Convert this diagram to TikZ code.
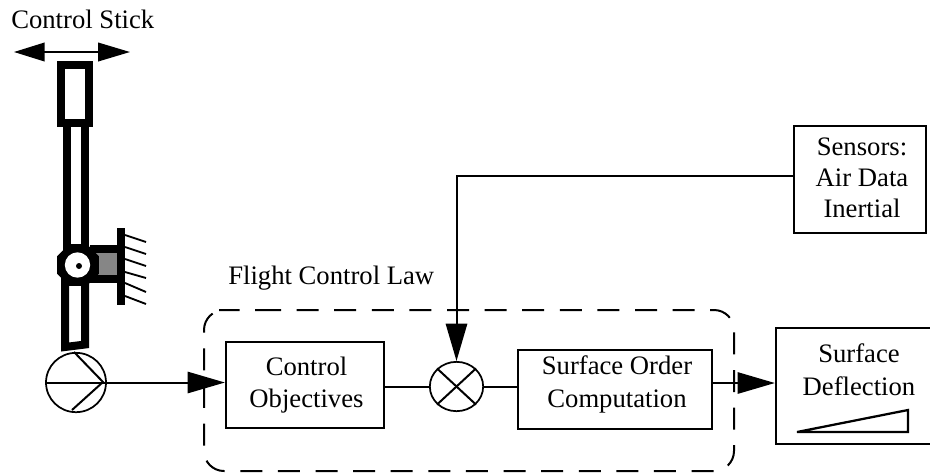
\documentclass[tikz,border=0pt]{standalone}
\usepackage{fontspec}
\setmainfont{Liberation Serif}
\usetikzlibrary{arrows.meta,shapes.geometric}
\begin{document}
\begin{tikzpicture}[x=0.75pt,y=-0.75pt,
  lbl/.style={font=\fontsize{20pt}{24pt}\selectfont,align=center,inner sep=0pt},
  blockbox/.style={draw,line width=1.7pt,inner sep=0pt},
  wire/.style={draw,line width=1.5pt},
  bigtip/.style={-{Triangle[length=28pt,width=16pt]}},
  stickline/.style={draw,line width=6pt},
  joint/.style={ellipse,draw,line width=1.3pt,fill=white,inner sep=0pt}]
\useasboundingbox (0,0) rectangle (930,472);
% dashed boundary
\draw[dash pattern=on 16.5pt off 11.7pt,line width=1.5pt,rounded corners=15pt] (239,310) -- (734,310) -- (734,471) -- (204,471) -- (204,310) -- cycle;
\node[lbl,anchor=base west] (lawlabel) at (228,284) {Flight Control Law};
% stick
\node[lbl,anchor=base west] (cs) at (11,28) {Control Stick};
\coordinate (al) at (14,52); \coordinate (ar) at (130,52);
\draw[line width=1.3pt,{Triangle[length=23pt,width=14pt]}-{Triangle[length=24pt,width=14pt]}] (al) -- (ar);
\draw[stickline] (61,65) rectangle (89,123);
\draw[stickline] (67,127) -- (67,250);
\draw[stickline] (85,127) -- (85,250);
\draw[stickline] (65,275) -- (65,347) -- (85,344.5) -- (85,275);
% mount
\fill[gray!95] (94,253) rectangle (117,275);
\draw[stickline] (90,249) -- (117,249);
\draw[stickline] (90,279) -- (117,279);
\draw[stickline] (121,228) -- (121,305);
\foreach \a/\b in {235/242,247/254,259/266,272/278,283/292,296/304}
  \draw[line width=1.4pt] (125,\a) -- (146,\b);
% pivot
\node[regular polygon,regular polygon sides=8,fill=black,inner sep=0pt,minimum size=34pt] (pivot) at (78,265) {};
\node[circle,fill=white,inner sep=0pt,minimum size=19pt] (pivothole) at (77.5,265) {};
\node[circle,fill=black,inner sep=0pt,minimum size=4.5pt] (pivotpin) at (79,266) {};
% blocks
\node[blockbox,minimum width=118.5pt,minimum height=64.5pt] (co) at (305,385) {};
\node[lbl] (cotext) at (306.5,384.7) {Control\\Objectives};
\node[blockbox,minimum width=145.5pt,minimum height=59.25pt] (so) at (615,389.5) {};
\node[lbl] (sotext) at (617,384.2) {Surface Order\\[0.75pt]Computation};
\node[blockbox,minimum width=117pt,minimum height=87pt] (sd) at (854,386) {};
\node[lbl] (sdtext) at (859,369.3) {Surface\\[0.75pt]Deflection};
\node[blockbox,minimum width=99pt,minimum height=80.25pt] (sn) at (860,179.5) {};
\node[lbl] (sntext) at (862,178) {Sensors:\\[-0.75pt]Air Data\\[-0.75pt]Inertial};
\draw[line width=1.7pt] (797,432) -- (908,410) -- (908,432) -- cycle;
% summing junction and pickoff
\node[joint,minimum width=40pt,minimum height=37pt] (mix) at (456.5,386.5) {};
\draw[wire] (mix.north west) -- (mix.south east);
\draw[wire] (mix.north east) -- (mix.south west);
\node[joint,minimum width=45pt,minimum height=44.5pt] (pick) at (76,382.5) {};
\draw[wire] (pick.north) ++(-2,0) -- (103,382) -- (72,410);
% connectors
\draw[wire,bigtip] (pick.west) -- (co.west |- pick.west);
\draw[wire] (co.east |- mix.west) -- (mix.west);
\draw[wire] (mix.east) -- (so.west |- mix.east);
\draw[wire,bigtip] (so.east |- 0,383) -- (sd.west |- 0,383);
\draw[wire,bigtip] (sn.west |- 0,176) -| (mix.north);
\end{tikzpicture}
\end{document}
